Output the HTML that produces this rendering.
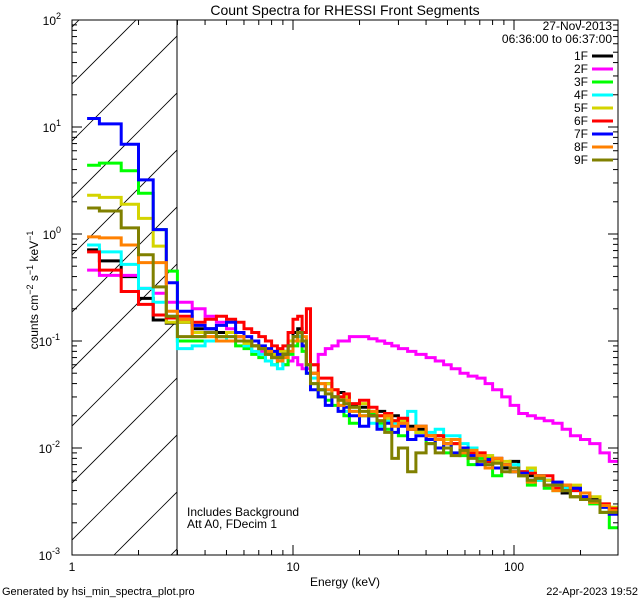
<!DOCTYPE html>
<html><head><meta charset="utf-8"><style>
body{margin:0;background:#fff;}
svg{display:block;font-family:"Liberation Sans",sans-serif;}
</style></head><body>
<svg id="chart" width="640" height="600" viewBox="0 0 640 600" xmlns="http://www.w3.org/2000/svg">
<rect x="0" y="0" width="640" height="600" fill="#fff"/>
<text x="345" y="15" font-size="14" text-anchor="middle">Count Spectra for RHESSI Front Segments</text>
<defs><clipPath id="plotclip"><rect x="72" y="20" width="546" height="535"/></clipPath>
<clipPath id="hatchclip"><rect x="72" y="20" width="105" height="535"/></clipPath></defs>
<g id="hatch" clip-path="url(#hatchclip)"></g>
<line x1="177" y1="20" x2="177" y2="555" stroke="#000" stroke-width="1"/>
<g id="series" clip-path="url(#plotclip)"></g>
<rect x="72" y="20" width="546" height="535" fill="none" stroke="#000" stroke-width="1"/>
<g id="ticks"></g>
<text x="345" y="586" font-size="12" text-anchor="middle">Energy (keV)</text>
<text transform="translate(38,290) rotate(-90)" font-size="12" text-anchor="middle">counts cm<tspan dy="-5" font-size="9">−2</tspan><tspan dy="5"> s</tspan><tspan dy="-5" font-size="9">−1</tspan><tspan dy="5"> keV</tspan><tspan dy="-5" font-size="9">−1</tspan></text>
<text x="187" y="516" font-size="12">Includes Background</text>
<text x="187" y="528" font-size="12">Att A0, FDecim 1</text>
<text x="2" y="595" font-size="11">Generated by hsi_min_spectra_plot.pro</text>
<text x="638" y="595" font-size="11" text-anchor="end">22-Apr-2023 19:52</text>
<text x="612" y="30" font-size="12" text-anchor="end">27-Nov-2013</text>
<text x="612" y="43" font-size="12" text-anchor="end">06:36:00 to 06:37:00</text>
<g id="legend"></g>
</svg>
<script>
const edges=[1.17,1.33,1.67,2,2.33,2.67,3,3.5,4,4.5,5,5.5,6,6.5,7,7.5,8,8.5,9,9.5,10,10.5,11,11.5,12,13,14,15,16,17,18,20,22,24,26,28,30,33,36,40,44,48,52,57,62,68,74,80,88,96,105,115,125,137,150,165,180,200,220,245,270,300];
const names=["1F","2F","3F","4F","5F","6F","7F","8F","9F"];
const colors=["#000000","#ff00ff","#00ff00","#00ffff","#d4d400","#ff0000","#0000ff","#ff8000","#808000"];
const s1F=[.71,.56,.40,.25,.157,.147, .15,.13,.13,.12,.12,.11,.1,.09,.085,.08,.075,.07,.08,.09,.12,.13,.1,.06, .05,.035,.04,.03,.033,.028,.025,.024,.02,.022,.018,.02,.017,.016,.015,.012,.013,.011,.012,.009,.01,.0085,.0075,.008,.0065,.0075,.006,.0055,.0052,.005,.0045,.0038,.0042,.0035,.0033,.0028,.0026];
const s2F=[.46,.41,.41,.31,.28,.23, .23,.2,.17,.15,.13,.11,.1,.09,.08,.075,.07,.065,.06,.065,.07,.06,.055,.055, .06,.075,.085,.09,.1,.1,.11,.11,.105,.1,.095,.09,.085,.08,.075,.07,.065,.06,.055,.05,.047,.045,.04,.035,.03,.025,.021,.02,.019,.018,.017,.015,.013,.012,.011,.009,.0075];
const s3F=[4.4,4.6,3.9,2.4,1.1,.45, .1,.1,.1,.11,.1,.09,.085,.075,.07,.065,.06,.07,.06,.075,.09,.1,.08,.05, .04,.03,.028,.025,.03,.02,.017,.02,.021,.017,.015,.018,.013,.015,.014,.011,.012,.009,.011,.0085,.007,.008,.008,.0055,.007,.006,.0055,.0045,.005,.0042,.004,.0043,.0035,.0035,.003,.0025,.0018];
const s4F=[.79,.68,.52,.31,.23,.17, .085,.09,.1,.1,.11,.1,.09,.08,.075,.065,.06,.055,.07,.08,.1,.11,.1,.06, .045,.035,.035,.03,.025,.022,.022,.02,.017,.016,.018,.017,.018,.022,.016,.014,.015,.013,.013,.011,.01,.0085,.0085,.0075,.007,.007,.006,.0062,.005,.005,.0045,.0042,.004,.0038,.0032,.0028,.0025];
const s5F=[2.3,2.2,1.9,1.4,.77,.15, .15,.12,.11,.11,.12,.1,.095,.09,.085,.08,.075,.08,.08,.1,.11,.1,.09,.06, .05,.04,.04,.035,.028,.03,.024,.026,.022,.02,.019,.018,.018,.015,.014,.013,.013,.012,.011,.01,.0095,.009,.0085,.0075,.0075,.0065,.006,.0065,.0055,.005,.0048,.004,.0045,.0038,.0035,.003,.0028];
const s6F=[.68,.46,.29,.22,.175,.164, .17,.15,.16,.17,.16,.15,.13,.12,.11,.1,.09,.085,.09,.12,.16,.17,.12,.2, .06,.045,.045,.035,.03,.032,.026,.028,.024,.02,.021,.018,.019,.015,.016,.013,.013,.011,.011,.01,.009,.009,.0075,.008,.007,.0065,.006,.0058,.0055,.0055,.0042,.0045,.004,.0038,.0032,.003,.0027];
const s7F=[12,10.7,6.9,3.2,1.1,.35, .19,.14,.13,.14,.15,.12,.11,.1,.09,.085,.08,.075,.075,.09,.11,.12,.09,.05, .035,.03,.025,.03,.022,.024,.02,.016,.02,.015,.017,.014,.016,.012,.013,.012,.01,.011,.009,.01,.0085,.007,.0078,.0065,.007,.006,.0058,.005,.0055,.0045,.0048,.004,.0042,.0035,.0032,.0028,.0024];
const s8F=[.94,.92,.79,.54,.54,.19, .16,.11,.11,.1,.1,.11,.1,.09,.085,.08,.07,.065,.07,.08,.1,.12,.11,.06, .05,.04,.035,.03,.025,.028,.022,.02,.022,.018,.02,.016,.017,.015,.016,.013,.012,.011,.012,.009,.0095,.0085,.0065,.008,.007,.006,.0055,.0048,.0055,.0045,.004,.0045,.0035,.0038,.0031,.0029,.0026];
const s9F=[1.75,1.64,1.14,.64,.32,.17, .11,.11,.12,.11,.11,.1,.1,.09,.085,.075,.07,.07,.075,.09,.11,.12,.1,.06, .04,.035,.032,.03,.028,.026,.024,.022,.02,.018,.014,.008,.01,.006,.009,.011,.009,.01,.0085,.0095,.008,.0075,.007,.0072,.006,.0065,.0055,.005,.0052,.0045,.0045,.004,.0035,.0033,.0032,.0025,.0025];
const seriesVals=[s1F,s2F,s3F,s4F,s5F,s6F,s7F,s8F,s9F];
const xTickLabels=["1","10","100"];
const yTickExps=["2","1","0","-1","-2","-3"];

const NS="http://www.w3.org/2000/svg";
const X0=72,X1=618,Y0=20,Y1=555,XDEC=221,YMAX=2,YMIN=-3;
function xs(e){return X0+XDEC*Math.log10(e);}
function ys(v){return Y0+(YMAX-Math.log10(v))*(Y1-Y0)/(YMAX-YMIN);}
function mk(tag,attrs,parent){const el=document.createElementNS(NS,tag);for(const k in attrs)el.setAttribute(k,attrs[k]);parent.appendChild(el);return el;}

// hatch
const hatch=document.getElementById('hatch');
for(let k=-2;k<14;k++){const bx=-342+57*k;
 const ln=mk('line',{x1:bx,y1:555,x2:bx+535,y2:20,stroke:'#000','stroke-width':0.8},hatch);
 
 }

// series
const sg=document.getElementById('series');
seriesVals.forEach((vals,si)=>{
 let d='';
 vals.forEach((v,i)=>{const xa=xs(edges[i]),xb=xs(edges[i+1]),y=ys(v);
  d+=(i===0?'M':'L')+xa.toFixed(1)+','+y.toFixed(1)+'L'+xb.toFixed(1)+','+y.toFixed(1);});
 const p=mk('path',{d:d,fill:'none',stroke:colors[si],'stroke-width':3,'stroke-linejoin':'miter'},sg);
 
 
});

// ticks
const tg=document.getElementById('ticks');
for(let dec=0;dec<3;dec++){for(let m=1;m<10;m++){const e=m*Math.pow(10,dec);if(e>295)break;
 const x=xs(e),L=(m===1)?10:5;
 const t1=mk('line',{x1:x,y1:Y1,x2:x,y2:Y1-L,stroke:'#000'},tg);
 
 
 const t2=mk('line',{x1:x,y1:Y0,x2:x,y2:Y0+L,stroke:'#000'},tg);
 
 }}
xTickLabels.forEach((lab)=>{const t=mk('text',{x:xs(+lab),y:571,'font-size':12,'text-anchor':'middle'},tg);t.textContent=lab;
 
 });
for(let ex=YMIN;ex<=YMAX;ex++){for(let m=1;m<10;m++){if(ex===YMAX&&m>1)break;const v=m*Math.pow(10,ex);const y=ys(v),L=(m===1)?10:5;
 const t1=mk('line',{x1:X0,y1:y,x2:X0+L,y2:y,stroke:'#000'},tg);
 
 
 const t2=mk('line',{x1:X1,y1:y,x2:X1-L,y2:y,stroke:'#000'},tg);
 
 }}
yTickExps.forEach((ex)=>{const y=ys(Math.pow(10,+ex));
 const t=mk('text',{x:ex.length>1?52:56,y:y+5,'font-size':12,'text-anchor':'end'},tg);t.textContent='10';
 
 
 const s=mk('text',{x:ex.length>1?52:56,y:y-1,'font-size':9},tg);s.textContent=ex;
 
 });

// legend
const lg=document.getElementById('legend');
names.forEach((n,i)=>{const y=56+i*13;
 const t=mk('text',{x:588,y:y+4,'font-size':12,'text-anchor':'end'},lg);t.textContent=n;
 
 
 const l=mk('line',{x1:592,y1:y,x2:613,y2:y,stroke:colors[i],'stroke-width':3},lg);
 
 });
</script>
</body></html>
